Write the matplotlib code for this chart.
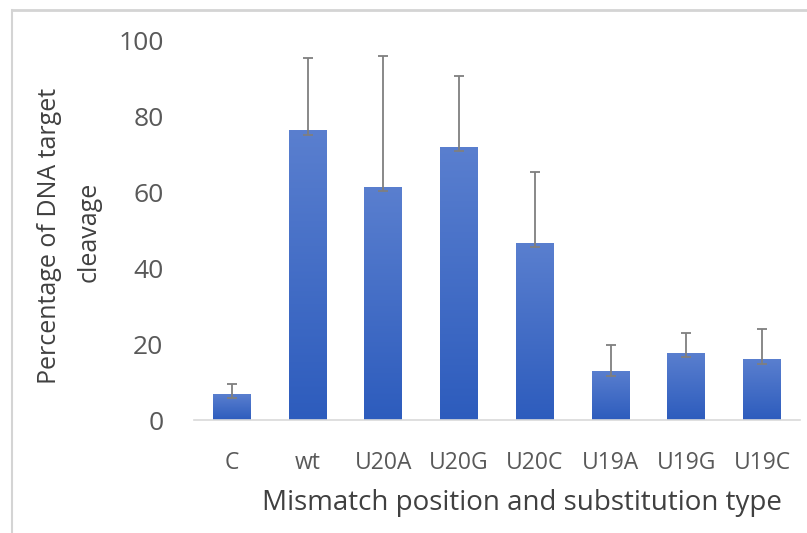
import numpy as np
import matplotlib.pyplot as plt
from matplotlib.lines import Line2D
from matplotlib.colors import LinearSegmentedColormap

labels = ['C', 'wt', 'U20A', 'U20G', 'U20C', 'U19A', 'U19G', 'U19C']
means = [6.8, 76.2, 61.4, 71.9, 46.7, 12.9, 17.7, 16.0]
err_low = [5.9, 75.1, 60.3, 70.9, 45.5, 11.6, 16.6, 14.8]
err_high = [9.5, 95.2, 95.9, 90.5, 65.2, 19.7, 23.0, 24.0]

plt.rcParams['font.family'] = ['Open Sans', 'DejaVu Sans']

fig = plt.figure(figsize=(8.07, 5.33), dpi=100)
W, H = 807, 533
ax = fig.add_axes([194 / W, 1 - 420 / H, 606 / W, 380 / H])

# outer chart frame (left and top edges visible)
fig.add_artist(Line2D([11.5 / W, 11.5 / W], [0, 1 - 10 / H], color='#d4d4d4', lw=1.5))
fig.add_artist(Line2D([11.5 / W, 1], [1 - 10 / H, 1 - 10 / H], color='#d4d4d4', lw=2))

x = np.arange(len(labels))
cmap = LinearSegmentedColormap.from_list('bar', ['#2d5cbd', '#5a7fcf'])
grad = np.linspace(0, 1, 256).reshape(-1, 1)
bars = ax.bar(x, means, width=0.5, color='#4472c4', zorder=2)
for b in bars:
    b.set_facecolor('none')
    bx, bw, bh = b.get_x(), b.get_width(), b.get_height()
    im = ax.imshow(grad, cmap=cmap, aspect='auto', origin='lower',
                   extent=[bx, bx + bw, 0, bh], zorder=2)
    im.set_clip_path(b)

means = np.array(means)
yerr = [means - np.array(err_low), np.array(err_high) - means]
ax.errorbar(x, means, yerr=yerr, fmt='none', ecolor='#7f7f7f',
            elinewidth=1.3, capsize=3.5, capthick=1.3, zorder=3)

ax.set_xlim(-0.5, len(labels) - 0.5)
ax.set_ylim(0, 100)
ax.set_yticks([0, 20, 40, 60, 80, 100])
ax.set_xticks(x)
ax.set_xticklabels(labels)
for s in ['top', 'right', 'left']:
    ax.spines[s].set_visible(False)
ax.spines['bottom'].set_color('#d9d9d9')
ax.spines['bottom'].set_linewidth(1.2)
ax.tick_params(axis='both', length=0, colors='#595959')
ax.tick_params(axis='y', labelsize=19, pad=22)
ax.tick_params(axis='x', labelsize=16.5, pad=22)

fig.text(522 / W, 1 - 503 / H, 'Mismatch position and substitution type',
         fontsize=20, color='#404040', ha='center', va='center')
fig.text(50 / W, 1 - 236 / H, 'Percentage of DNA target', rotation=90,
         fontsize=18, color='#404040', ha='center', va='center')
fig.text(89 / W, 1 - 232 / H, 'cleavage', rotation=90,
         fontsize=18, color='#404040', ha='center', va='center')

fig.savefig('out.png', dpi=100)
